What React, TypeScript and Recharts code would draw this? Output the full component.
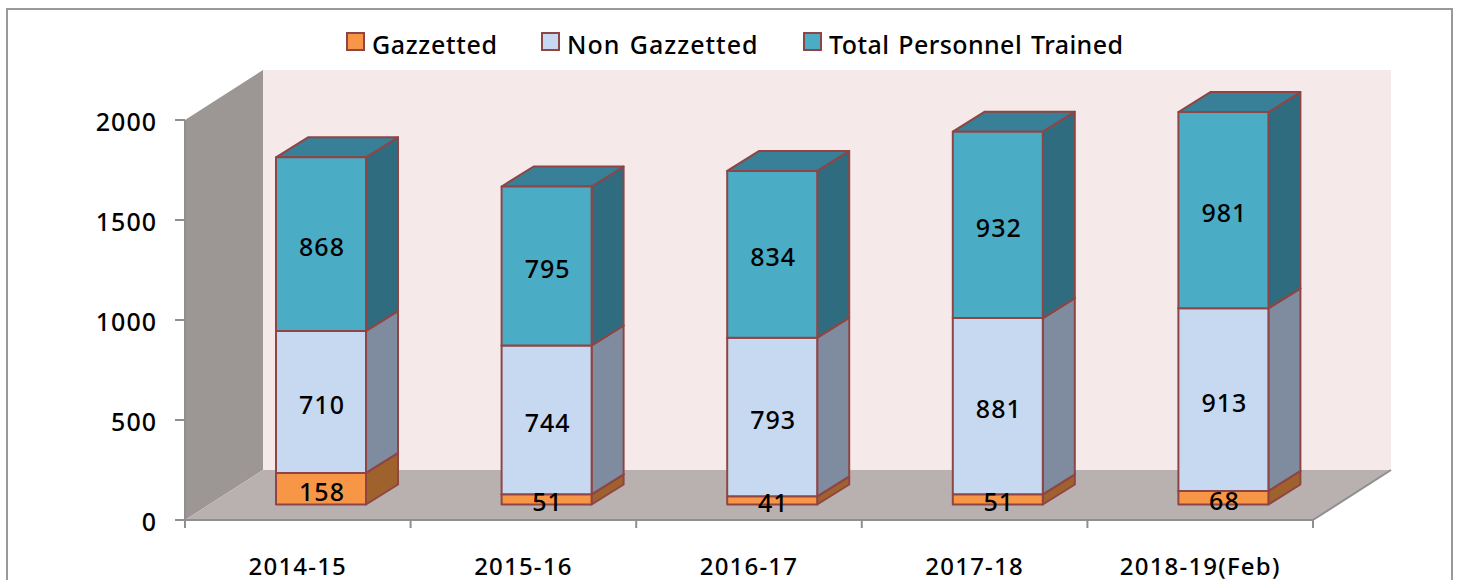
import React from 'react';
import { BarChart, Bar, XAxis, YAxis, Legend, LabelList } from 'recharts';

const categories = ['2014-15', '2015-16', '2016-17', '2017-18', '2018-19(Feb)'];
const gazetted = [158, 51, 41, 51, 68];
const nonGazetted = [710, 744, 793, 881, 913];
const totalTrained = [868, 795, 834, 932, 981];
const yTicks = [0, 500, 1000, 1500, 2000];

const data = categories.map((name, i) => ({
  name,
  gazetted: gazetted[i],
  nonGazetted: nonGazetted[i],
  totalTrained: totalTrained[i],
}));

const W = 1460;
const H = 580;
const LEFT = 185;
const RIGHT = 1313;
const TOP = 120;
const BOTTOM = 520;
// floor / wall depth
const DX = 78;
const DY = 50;
// bars sit part way back on the floor
const BAR_DX = 23;
const BAR_DY = 15.5;
const BOX_DX = 32;
const BOX_DY = 20;
const FONT = '"Noto Sans", sans-serif';
const AXIS = '#8f8f8f';
const EDGE = '#8f4545';

const Walls = () => {
  const band = (RIGHT - LEFT) / categories.length;
  return (
    <g>
      <polygon points={`${LEFT},${TOP} ${LEFT + DX},${TOP - DY} ${LEFT + DX},${BOTTOM - DY} ${LEFT},${BOTTOM}`} fill="#9c9695" />
      <rect x={LEFT + DX} y={TOP - DY} width={RIGHT - LEFT} height={BOTTOM - TOP} fill="#f5e9e9" />
      <polygon points={`${LEFT},${BOTTOM} ${LEFT + DX},${BOTTOM - DY} ${RIGHT + DX},${BOTTOM - DY} ${RIGHT},${BOTTOM}`} fill="#b9b0b0" />
      <line x1={RIGHT} y1={BOTTOM} x2={RIGHT + DX} y2={BOTTOM - DY} stroke={AXIS} strokeWidth={2} />
      {[0, 1, 2, 3, 4, 5].map((i) => (
        <line key={i} x1={LEFT + band * i} x2={LEFT + band * i} y1={BOTTOM} y2={BOTTOM + 8} stroke={AXIS} strokeWidth={2} />
      ))}
    </g>
  );
};

const makeBox = (side: string, top: string) => (props: any) => {
  const { fill, width, height } = props;
  const x = props.x + BAR_DX;
  const y = props.y - BAR_DY;
  const r = x + width;
  const b = y + height;
  return (
    <g stroke={EDGE} strokeWidth={2} strokeLinejoin="round">
      <polygon points={`${r},${y} ${r + BOX_DX},${y - BOX_DY} ${r + BOX_DX},${b - BOX_DY} ${r},${b}`} fill={side} />
      <polygon points={`${x},${y} ${x + BOX_DX},${y - BOX_DY} ${r + BOX_DX},${y - BOX_DY} ${r},${y}`} fill={top} />
      <rect x={x} y={y} width={width} height={height} fill={fill} />
    </g>
  );
};

const BarLabel = (props: any) => {
  const { x, y, width, height, value } = props;
  return (
    <text
      x={x + BAR_DX + width / 2 + 1}
      y={y - BAR_DY + height / 2 + 2}
      textAnchor="middle"
      dominantBaseline="central"
      fontFamily={FONT}
      fontSize={25}
      fontWeight={500}
      letterSpacing={1}
      fill="#000"
    >
      {value}
    </text>
  );
};

const LegendRow = ({ payload }: any) => (
  <div style={{ position: 'relative', height: 34, fontFamily: FONT, fontSize: 25, fontWeight: 500, color: '#000' }}>
    {(payload || []).map((item: any, i: number) => (
      <div key={item.value} style={{ position: 'absolute', left: [346, 541, 803][i], top: 0, display: 'flex', alignItems: 'center', whiteSpace: 'nowrap' }}>
        <span style={{ display: 'inline-block', width: 15, height: 15, background: item.color, border: `2px solid ${EDGE}`, marginRight: 7, marginTop: -6 }} />
        <span style={{ letterSpacing: [0.65, 1, 0.42][i], wordSpacing: 2 }}>{item.value}</span>
      </div>
    ))}
  </div>
);

const App = () => {
  return (
    <div style={{ position: 'absolute', left: 0, top: 0, width: W, height: H, overflow: 'hidden', background: '#fff' }}>
      <div style={{ position: 'absolute', left: 6, top: 8, width: 1447, height: 600, border: '2px solid #999', boxSizing: 'border-box' }} />
      <BarChart
        width={W}
        height={H}
        data={data}
        barSize={90}
        margin={{ top: TOP, right: W - RIGHT, bottom: 20, left: LEFT - 70 }}
        style={{ position: 'absolute', left: 0, top: 0 }}
      >
        <Walls />
        <XAxis
          dataKey="name"
          height={H - BOTTOM - 20}
          axisLine={{ stroke: AXIS, strokeWidth: 2 }}
          tickLine={false}
          interval={0}
          tickMargin={32}
          tick={{ fontFamily: FONT, fontSize: 24, fontWeight: 500, fill: '#000', letterSpacing: 1.2 }}
        />
        <YAxis
          width={70}
          domain={[0, 2000]}
          ticks={yTicks}
          axisLine={{ stroke: AXIS, strokeWidth: 2 }}
          tickLine={{ stroke: AXIS, strokeWidth: 2 }}
          tickSize={10}
          tickMargin={18}
          tick={{ fontFamily: FONT, fontSize: 25, fontWeight: 500, fill: '#000', letterSpacing: 1, dy: 2 }}
        />
        <Legend verticalAlign="middle" align="center" layout="horizontal" wrapperStyle={{ top: 27, left: 0, width: W }} content={<LegendRow />} />
        <Bar dataKey="gazetted" name="Gazzetted" stackId="a" fill="#f79646" shape={makeBox('#a0622c', '#b87033')} isAnimationActive={false}>
          <LabelList dataKey="gazetted" content={<BarLabel />} />
        </Bar>
        <Bar dataKey="nonGazetted" name="Non Gazzetted" stackId="a" fill="#c6d9f1" shape={makeBox('#7f8c9f', '#98a6b8')} isAnimationActive={false}>
          <LabelList dataKey="nonGazetted" content={<BarLabel />} />
        </Bar>
        <Bar dataKey="totalTrained" name="Total Personnel Trained" stackId="a" fill="#4bacc6" shape={makeBox('#306c7f', '#388097')} isAnimationActive={false}>
          <LabelList dataKey="totalTrained" content={<BarLabel />} />
        </Bar>
      </BarChart>
    </div>
  );
};

export default App;
